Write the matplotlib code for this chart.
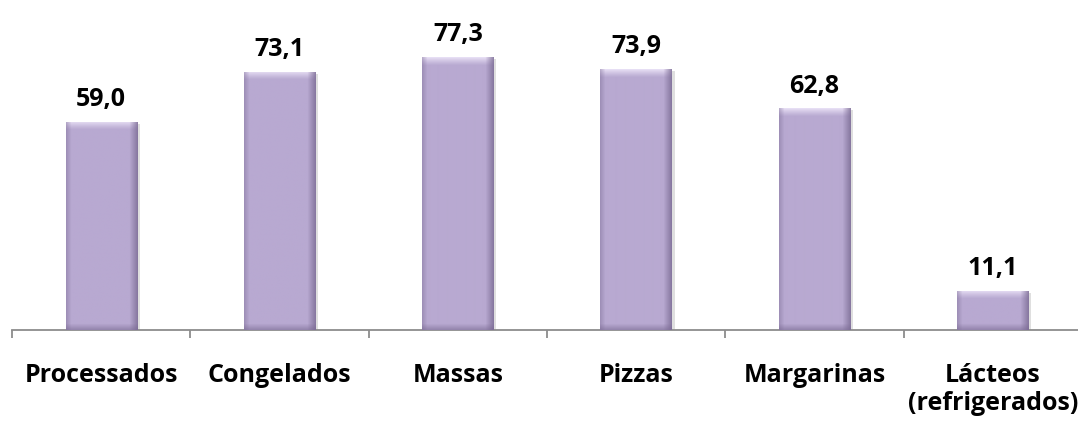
import numpy as np
import matplotlib
matplotlib.use("Agg")
import matplotlib.pyplot as plt
import matplotlib.patheffects as pe

categories = ["Processados", "Congelados", "Massas", "Pizzas", "Margarinas", "Lácteos\n(refrigerados)"]
values = [59.0, 73.1, 77.3, 73.9, 62.8, 11.1]
value_labels = ["59,0", "73,1", "77,3", "73,9", "62,8", "11,1"]

plt.rcParams['font.family'] = ['Open Sans', 'DejaVu Sans']

W, H, DPI = 10.78, 4.25, 100
fig = plt.figure(figsize=(W, H), dpi=DPI)
left = 12 / 1078
ax = fig.add_axes([left, (425 - 330) / 425, 1070 / 1078, 330 / 425])

x = np.arange(len(categories))
bar_w = 0.4
base = np.array([184, 169, 209]) / 255.0
bars = ax.bar(x, values, width=bar_w, color=base, edgecolor="none", zorder=2,
              path_effects=[pe.SimplePatchShadow(offset=(2, -1.5), shadow_rgbFace=(0.5, 0.5, 0.5), alpha=0.25), pe.Normal()])

ax.set_xlim(-0.5, 5.5)
ax.set_ylim(0, 330 / 3.53)

# bevel shading clipped to each bar
px_per_x = 1070 / 6.0
px_per_y = 3.53
for b in bars:
    wpx = int(round(b.get_width() * px_per_x))
    hpx = max(int(round(b.get_height() * px_per_y)), 2)
    img = np.ones((hpx, wpx, 3)) * base
    bev = 8
    yy = np.arange(hpx)[:, None] * np.ones((1, wpx))
    xx = np.ones((hpx, 1)) * np.arange(wpx)[None, :]
    light = np.array([236, 228, 248]) / 255.0
    dark = np.array([120, 104, 145]) / 255.0
    t = (np.clip(1 - yy / bev, 0, 1) ** 1.2)[..., None]
    img = img * (1 - t * 0.9) + light * t * 0.9
    r = np.clip(1 - (wpx - 1 - xx) / bev, 0, 1)[..., None]
    img = img * (1 - r * 0.75) + dark * r * 0.75
    l = np.clip(1 - xx / 5, 0, 1)[..., None]
    img = img * (1 - l * 0.4) + dark * l * 0.4
    bt = np.clip(1 - (hpx - 1 - yy) / 6, 0, 1)[..., None]
    img = img * (1 - bt * 0.55) + dark * bt * 0.55
    im = ax.imshow(np.clip(img, 0, 1), extent=(b.get_x(), b.get_x() + b.get_width(), 0, b.get_height()),
                   aspect='auto', origin='upper', zorder=3, interpolation='bilinear')
    im.set_clip_path(b)

ax.set_xlim(-0.5, 5.5)
ax.set_ylim(0, 330 / 3.53)

for xi, v, lab in zip(x, values, value_labels):
    ax.annotate(lab, (xi, v), xytext=(0, 7), textcoords='offset points', ha='center', va='bottom',
                fontsize=18, fontweight='bold', color='black', zorder=4)

for s in ['top', 'right', 'left']:
    ax.spines[s].set_visible(False)
ax.spines['bottom'].set_color('#8c8c8c')
ax.spines['bottom'].set_linewidth(1.3)
ax.set_yticks([])
ax.set_xticks(np.arange(-0.5, 6.0, 1.0))
ax.set_xticklabels([])
ax.tick_params(axis='x', which='major', length=6, width=1.3, color='#8c8c8c', direction='out')
ax.set_xticks(x, minor=True)
ax.set_xticklabels(categories, minor=True, fontsize=18, fontweight='bold', linespacing=1.12)
ax.tick_params(axis='x', which='minor', length=0, pad=24)

fig.savefig("out.png", dpi=DPI)
